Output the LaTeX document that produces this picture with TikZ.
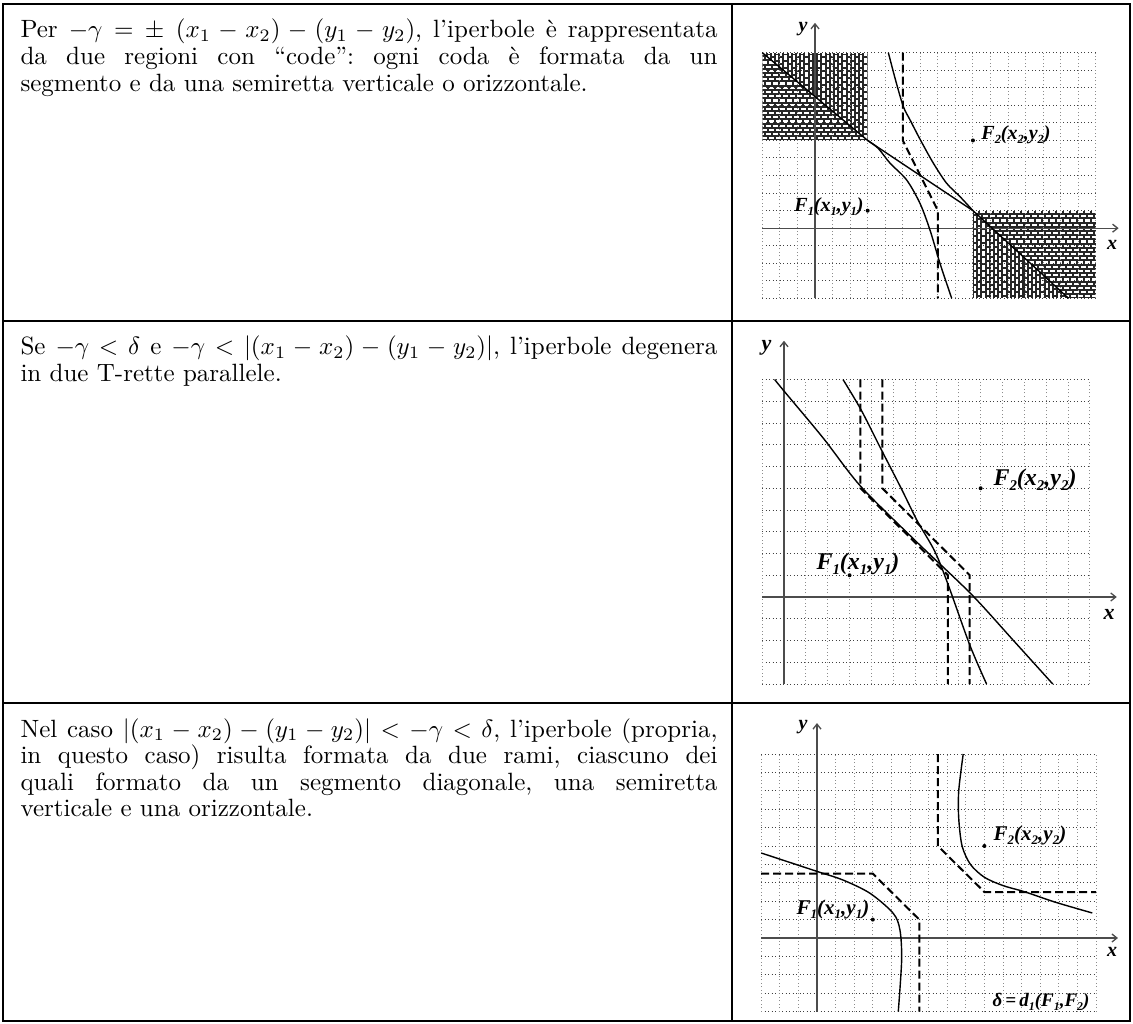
\documentclass[tikz,border=0pt]{standalone}
\usepackage{fix-cm}
\usepackage{fontspec}
\newfontfamily\lblfont{Liberation Serif}
\usetikzlibrary{arrows.meta}
\frenchspacing
\newcommand\lsub[1]{\raisebox{-0.2em}{\scalebox{0.62}{#1}}}
\tikzset{
 frame/.style={line width=2.6pt, line cap=rect},
 body/.style={anchor=base west, scale=2.5, text width=278.8pt, align=justify, inner sep=0pt,
   font=\fontsize{10}{10.65}\selectfont},
 gh/.style={line width=1pt, black!75, dash pattern=on 1pt off 2.5pt},
 gv/.style={line width=1pt, black!45, dash pattern=on 1pt off 2.5pt},
 axis/.style={line width=1.3pt, black!70, -{Straight Barb[length=5pt,width=8pt]}},
 curve/.style={line width=1.4pt, black},
 dsh/.style={line width=2pt, black, dash pattern=on 8pt off 4pt},
 foc/.style={circle, fill=black, inner sep=0pt, minimum size=4pt},
 lbl/.style={inner sep=0pt, font=\lblfont\bfseries\itshape\fontsize{#1}{#1}\selectfont},
 brick/.style={white, line width=2.2pt, dash pattern=on 5pt off 2pt},
}
\newcommand\hbricks[4]{%
  \fill[black!85] (#1,#3) rectangle (#2,#4);
  \foreach \k in {0,...,36}{%
    \pgfmathsetmacro\yy{#3+0.12+0.24*\k}\pgfmathsetmacro\ph{mod(\k,2)*3.5}%
    \draw[brick, dash phase=\ph pt] (#1,\yy) -- (#2,\yy);}}
\newcommand\vbricks[4]{%
  \fill[black!85] (#1,#3) rectangle (#2,#4);
  \foreach \k in {0,...,36}{%
    \pgfmathsetmacro\xx{#1+0.12+0.24*\k}\pgfmathsetmacro\ph{mod(\k,2)*3.5}%
    \draw[brick, dash phase=\ph pt] (\xx,#3) -- (\xx,#4);}}
\begin{document}
\begin{tikzpicture}[x=1pt,y=-1pt]
\useasboundingbox (0,0) rectangle (1133,1024);
\fill[white] (0,0) rectangle (1133,1024);

% ---------- texts ----------
\node[body] (t1) at (20,38) {Per $-\gamma = \pm\;(x_1 - x_2) - (y_1 - y_2)$, l’iperbole è rappresentata\linebreak da due regioni con “code”: ogni coda è formata da un\linebreak segmento e da una semiretta verticale o orizzontale.};
\node[body] (t2) at (20,355) {Se $-\gamma < \delta$ e $-\gamma < |(x_1 - x_2) - (y_1 - y_2)|$, l’iperbole degenera\linebreak in due T-rette parallele.};
\node[body] (t3) at (20,737) {Nel caso $|(x_1 - x_2) - (y_1 - y_2)| < -\gamma < \delta$, l’iperbole (propria,\linebreak in questo caso) risulta formata da due rami, ciascuno dei\linebreak quali formato da un segmento diagonale, una semiretta\linebreak verticale e una orizzontale.};

% ---------- graph 1 ----------
\begin{scope}[shift={(815,228.2)}, x=17.55pt, y=17.55pt]
  \begin{scope}
    \clip (-3,10) -- (3,10) -- (3,5) -- cycle;
    \vbricks{-3}{3}{5}{10}
  \end{scope}
  \begin{scope}
    \clip (-3,10) -- (3,5) -- (-3,5) -- cycle;
    \hbricks{-3}{3}{5}{10}
  \end{scope}
  \begin{scope}
    \clip (9,1) -- (16,1) -- (16,-4) -- (14.45,-4) -- cycle;
    \hbricks{9}{16}{-4}{1}
  \end{scope}
  \begin{scope}
    \clip (9,1) -- (14.45,-4) -- (9,-4) -- cycle;
    \vbricks{9}{16}{-4}{1}
  \end{scope}
  \foreach \j in {-4,...,10} \draw[gh] (-3,\j) -- (16,\j);
  \foreach \i in {-3,...,16} \draw[gv] (\i,-4) -- (\i,10);
  \draw[axis] (0,-4) -- (0,11.7);
  \draw[axis] (-3,0) -- (17.3,0);
  \draw[curve] (-3,10) -- (3,5) -- (9,1) -- (14.45,-4);
  \draw[curve] plot[smooth] coordinates {(4.18,10) (4.6,8.4) (5.03,6.94) (5.41,6.18) (6,5.04) (6.74,3.71) (7.5,2.56) (8.26,1.8) (9,1)};
  \draw[curve] plot[smooth] coordinates {(3,5) (3.6,4.55) (4.27,3.71) (5.22,2.75) (5.98,1.42) (6.55,-0.1) (7.12,-2) (7.79,-4)};
  \draw[dsh] (5,10) -- (5,5) -- (7,1) -- (7,-4);
  \node[foc] (g1f1) at (3,1) {};
  \node[foc] (g1f2) at (9,5) {};
\end{scope}
\node[lbl=20] (g1y) at (803,29) {y};
\node[lbl=20] (g1x) at (1112,245) {x};
\node[lbl=20] (g1l2) at (1016,135) {F\lsub{2}(x\lsub{2},y\lsub{2})};
\node[lbl=20] (g1l1) at (829,207) {F\lsub{1}(x\lsub{1},y\lsub{1})};

% ---------- graph 2 ----------
\begin{scope}[shift={(784,597)}, x=21.85pt, y=21.75pt]
  \foreach \j in {-4,...,10} \draw[gh] (-1,\j) -- (14,\j);
  \foreach \i in {-1,...,14} \draw[gv] (\i,-4) -- (\i,10);
  \draw[axis] (0,-4) -- (0,11.78);
  \draw[axis] (-1,0) -- (15.23,0);
  \draw[curve] plot[smooth] coordinates {(-0.43,10) (0,9.47) (1.8,7.3) (3.5,5.1) (6,2.6) (8.55,0.15) (10.5,-2) (12.3,-4)};
  \draw[curve] plot[smooth] coordinates {(2.7,10) (3.53,8.6) (4.44,6.8) (5.36,5.0) (6.1,3.5) (6.9,2.1) (7.5,0.6) (8.5,-2.2) (9.27,-4)};
  \draw[dsh] (3.5,10) -- (3.5,5) -- (7.5,1) -- (7.5,-4);
  \draw[dsh] (4.5,10) -- (4.5,5) -- (8.5,1) -- (8.5,-4);
  \node[foc] (g2f1) at (3,1) {};
  \node[foc] (g2f2) at (9,5) {};
\end{scope}
\node[lbl=22] (g2y) at (766.5,347.5) {y};
\node[lbl=22] (g2x) at (1109,614) {x};
\node[lbl=24] (g2l2) at (1035,480) {F\lsub{2}(x\lsub{2},y\lsub{2})};
\node[lbl=24] (g2l1) at (858,564) {F\lsub{1}(x\lsub{1},y\lsub{1})};

% ---------- graph 3 ----------
\begin{scope}[shift={(817,938)}, x=18.6pt, y=18.4pt]
  \foreach \j in {-4,...,10} \draw[gh] (-3,\j) -- (15,\j);
  \foreach \i in {-3,...,15} \draw[gv] (\i,-4) -- (\i,10);
  \draw[axis] (0,-4) -- (0,11.68);
  \draw[axis] (-3,0) -- (16.18,0);
  \draw[curve] plot[smooth] coordinates {(7.86,10) (7.62,8) (7.62,6.5) (7.8,5.0) (8.25,4.0) (9.0,3.3) (10.0,2.85) (11.2,2.5) (12.8,1.95) (14.8,1.36)};
  \draw[curve] plot[smooth] coordinates {(-3,4.62) (0,3.62) (1.4,3.15) (2.85,2.43) (4.1,1.34) (4.46,0.43) (4.55,-1.2) (4.37,-4)};
  \draw[dsh] (6.5,10) -- (6.5,5) -- (9,2.5) -- (15,2.5);
  \draw[dsh] (-3,3.5) -- (3,3.5) -- (5.5,1) -- (5.5,-4);
  \node[foc] (g3f1) at (3,1) {};
  \node[foc] (g3f2) at (9,5) {};
\end{scope}
\node[lbl=20] (g3y) at (803,727) {y};
\node[lbl=20] (g3x) at (1112,952) {x};
\node[lbl=21] (g3l2) at (1030,835) {F\lsub{2}(x\lsub{2},y\lsub{2})};
\node[lbl=21] (g3l1) at (833,909) {F\lsub{1}(x\lsub{1},y\lsub{1})};
\node[lbl=19] (g3d) at (1041,1002) {δ\,=\,d\lsub{1}(F\lsub{1},F\lsub{2})};

% ---------- table ----------
\draw[frame] (3,4) rectangle (1130,1021);
\draw[frame] (732,4) -- (732,1021);
\draw[frame] (3,321) -- (1130,321);
\draw[frame] (3,703) -- (1130,703);
\end{tikzpicture}
\end{document}
